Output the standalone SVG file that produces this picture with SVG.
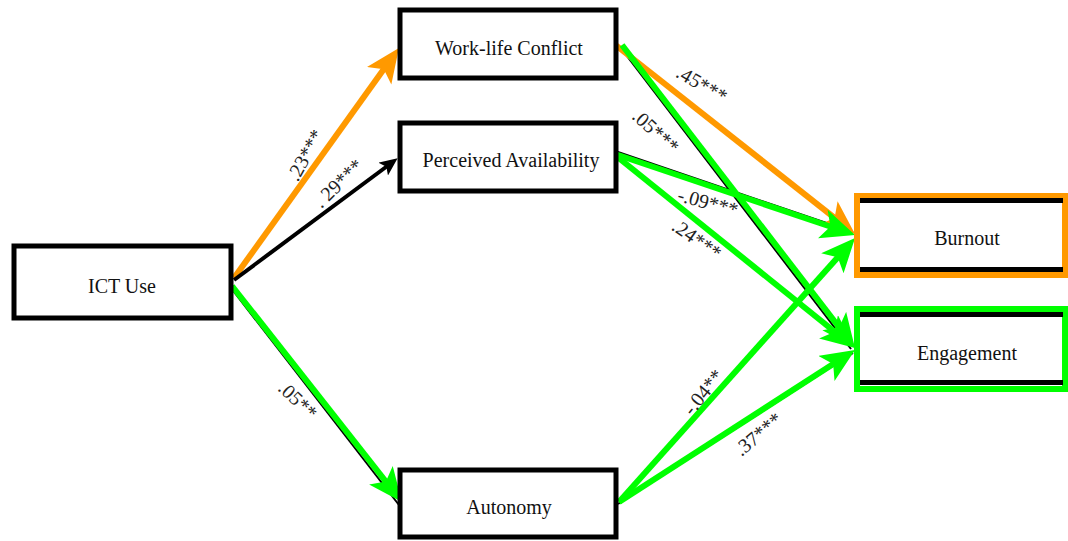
<svg xmlns="http://www.w3.org/2000/svg" width="1068" height="541" viewBox="0 0 1068 541">
<style>
.box{fill:#fff;stroke:#000;stroke-width:5}
.lbl{font-family:"Liberation Serif","Times New Roman",serif;font-size:20px;fill:#111;text-anchor:middle}
.el{font-family:"Liberation Serif","Times New Roman",serif;font-size:20px;fill:#222;text-anchor:middle;dominant-baseline:central}
.g{stroke:#00ff00;stroke-width:6;fill:none;marker-end:url(#ag)}
.o{stroke:#ff9900;stroke-width:6;fill:none;marker-end:url(#ao)}
.k{stroke:#000;stroke-width:4;fill:none;marker-end:url(#ak)}
.sh{stroke:#000;stroke-width:2;fill:none}
</style>
<defs>
<marker id="ag" markerUnits="userSpaceOnUse" markerWidth="36" markerHeight="32" refX="14" refY="15" orient="auto"><path d="M0,0 L34,15 L0,30 L8,15 z" fill="#00ff00"/></marker>
<marker id="ao" markerUnits="userSpaceOnUse" markerWidth="36" markerHeight="32" refX="14" refY="15" orient="auto"><path d="M0,0 L34,15 L0,30 L8,15 z" fill="#ff9900"/></marker>
<marker id="ak" markerUnits="userSpaceOnUse" markerWidth="20" markerHeight="16" refX="6" refY="8" orient="auto"><path d="M0,0 L18,8 L0,16 L4,8 z" fill="#000"/></marker>
</defs>
<rect width="1068" height="541" fill="#fff"/>
<g id="connectors">
<line class="sh" x1="231" y1="288" x2="399" y2="505"/>
<line class="sh" x1="620" y1="47" x2="851" y2="349"/>
<line class="sh" x1="615" y1="151" x2="853" y2="232"/>
<line class="sh" x1="618" y1="504" x2="853" y2="353"/>
<line class="o" x1="234" y1="278" x2="387.3" y2="64.3"/>
<line class="k" x1="234" y1="280" x2="388" y2="165.5"/>
<line class="g" x1="232" y1="286" x2="389.6" y2="486.3"/>
<line class="o" x1="613" y1="43" x2="839.3" y2="221.6"/>
<line class="g" x1="622" y1="45" x2="842.8" y2="332.1"/>
<line class="g" x1="615" y1="154" x2="836.1" y2="228.5"/>
<line class="g" x1="615" y1="155" x2="839.4" y2="335.5"/>
<line class="g" x1="619" y1="502" x2="841.7" y2="252.9"/>
<line class="g" x1="619" y1="502" x2="838.2" y2="360.8"/>
<text class="el" transform="translate(305,155) rotate(-61)">.23***</text>
<text class="el" transform="translate(338,183) rotate(-44)">. 29***</text>
<text class="el" transform="translate(298,400) rotate(44)">.05**</text>
<text class="el" transform="translate(702,84) rotate(30)">.45***</text>
<text class="el" transform="translate(656,131) rotate(42)">.05***</text>
<text class="el" transform="translate(708,202) rotate(15)">-.09***</text>
<text class="el" transform="translate(697,239) rotate(35)">.24***</text>
<text class="el" transform="translate(703,392) rotate(-51)">-.04**</text>
<text class="el" transform="translate(758,434) rotate(-40)">.37***</text>
</g>
<g id="ict"><rect class="box" x="14" y="246" width="217" height="72"/><text class="lbl" x="122" y="293">ICT Use</text></g>
<g id="wlc"><rect class="box" x="400" y="10" width="216" height="68"/><text class="lbl" x="509" y="55">Work-life Conflict</text></g>
<g id="pa"><rect class="box" x="400" y="123" width="216" height="68"/><text class="lbl" x="511" y="167">Perceived Availability</text></g>
<g id="autonomy"><rect class="box" x="400" y="470" width="216" height="67"/><text class="lbl" x="509" y="514">Autonomy</text></g>
<g id="burnout"><rect x="857" y="196" width="208" height="79" fill="#fff" stroke="#ff9900" stroke-width="6"/><rect x="860" y="198" width="203" height="5" fill="#000"/><rect x="860" y="267" width="203" height="5" fill="#000"/><text class="lbl" x="967" y="245">Burnout</text></g>
<g id="engagement"><rect x="857" y="309" width="208" height="80" fill="#fff" stroke="#00ff00" stroke-width="6"/><rect x="860" y="312" width="203" height="5" fill="#000"/><rect x="860" y="380" width="203" height="5" fill="#000"/><text class="lbl" x="967" y="360">Engagement</text></g>
</svg>
